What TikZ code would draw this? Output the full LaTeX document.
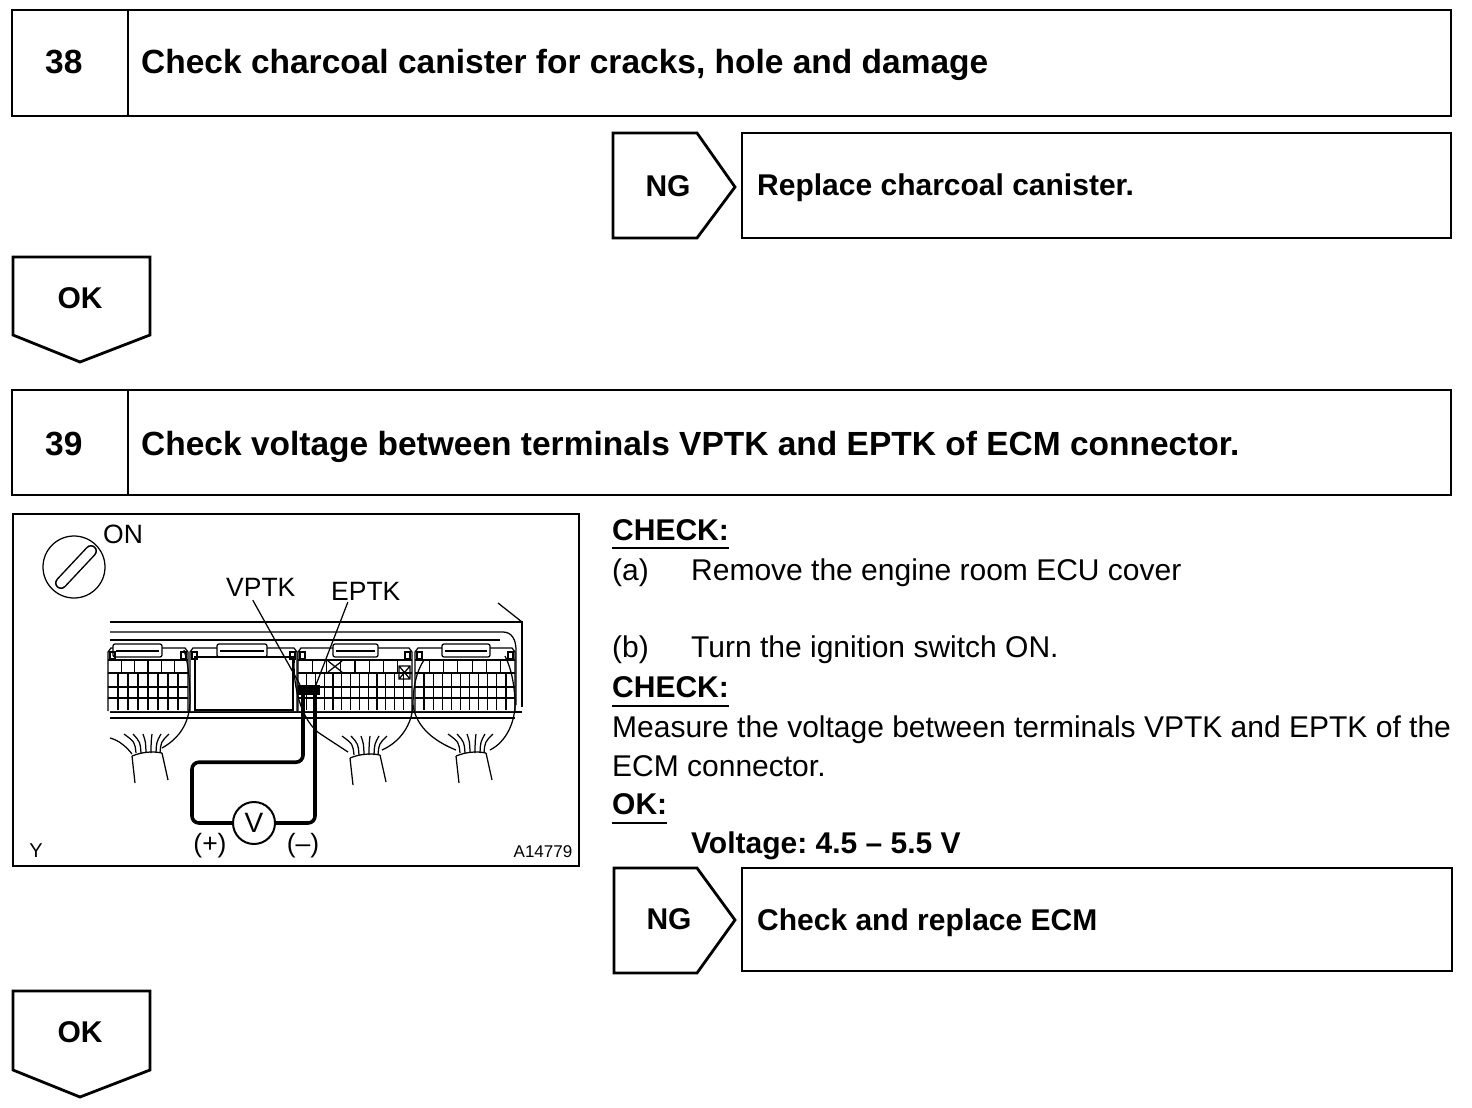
\documentclass[tikz,border=0pt]{standalone}
\usepackage{fontspec}
\setmainfont{Liberation Sans}
\usepackage{tikz}
\usetikzlibrary{positioning}
\frenchspacing
\newcommand{\headfont}{\fontsize{33.5}{40}\selectfont\bfseries}
\newcommand{\boxfont}{\fontsize{30}{36}\selectfont\bfseries}
\newcommand{\bodyfont}{\fontsize{30}{36}\selectfont}
\newcommand{\figfont}{\fontsize{26.5}{30}\selectfont}
% connector housing of the ECM
\newcommand{\ecmbody}[4]{%
  \draw[fig, fill=white] (#1,711) -- (#1,652) -- (#1+3,648) -- (#2-3,648) -- (#2,652) -- (#2,711);
  \draw[fig, fill=white, rounded corners=2pt] (#3,657) rectangle (#4,644);
  \draw[fig] (#3+3,651) -- (#4-3,651);
  \draw[fig] (#1+2,652) rectangle (#1+7,659);
  \draw[fig] (#2-7,652) rectangle (#2-2,659);
}
\newcommand{\ecmgrid}[4]{%
  \draw[fig] (#1,660) -- (#2,660) (#1,673) -- (#2,673) (#1,687) -- (#2,687) (#1,698) -- (#2,698);
  \foreach \i in {1,...,#3} \draw[fig] ({#1+\i*(#2-#1)/(#3+1)},660) -- ++(0,13);
  \foreach \i in {1,...,#4} \draw[fig] ({#1+\i*(#2-#1)/(#4+1)},673) -- ++(0,37);
}
% wire bundle leaving a connector
\newcommand{\harness}[2]{%
  \draw[fig] (#1,#2) -- ++(3,27);
  \draw[fig] (#1+30,#2-3) -- ++(6,27);
  \draw[fig] (#1,#2) .. controls (#1+10,#2-4) and (#1+20,#2-5) .. (#1+30,#2-3);
  \foreach \sx/\dx in {4/-12,9/-8,14/-3,19/1,24/5,28/9}
    \draw[fig] (#1+\sx,#2-3) .. controls (#1+\sx+\dx*0.1,#2-14) .. (#1+\sx+\dx,#2-22);
}

\begin{document}
\begin{tikzpicture}[x=1pt,y=-1pt]
\tikzset{box/.style={draw, line width=2.8pt}}
\tikzset{tag/.style={draw, line width=2.8pt, line join=miter}}
\tikzset{lbl/.style={inner sep=0pt, anchor=base west}}
\tikzset{fig/.style={line width=1.25pt}}
\tikzset{wire/.style={line width=3.6pt, rounded corners=7pt}}
\tikzset{uline/.style={line width=1.6pt}}

\useasboundingbox (0,0) rectangle (1472,1108);

% step 38
\draw[box] (12,10) rectangle (1451,116);
\draw[box] (128,10) -- (128,116);
\node[lbl, font=\headfont] (n38) at (45,74) {38};
\node[lbl, font=\headfont] (t38) at (141,74) {Check charcoal canister for cracks, hole and damage};

\draw[tag] (613,133) -- (697,133) -- (735,187) -- (697,238) -- (613,238) -- cycle;
\node[font=\boxfont] (ng1) at (668,186) {NG};
\draw[box] (742,133) rectangle (1451,238);
\node[lbl, font=\boxfont] (fix1) at (757,195) {Replace charcoal canister.};

\draw[tag] (13,257) -- (150,257) -- (150,335) -- (80,362) -- (13,335) -- cycle;
\node[font=\boxfont] (ok1) at (80,298) {OK};

% step 39
\draw[box] (12,390) rectangle (1451,495);
\draw[box] (128,390) -- (128,495);
\node[lbl, font=\headfont] (n39) at (45,455) {39};
\node[lbl, font=\headfont] (t39) at (141,455) {Check voltage between terminals VPTK and EPTK of ECM connector.};

\node[lbl, font=\boxfont] (chk1) at (612,540) {CHECK:};
\draw[uline] ([yshift=-8pt]chk1.base west) -- ([yshift=-8pt]chk1.base east);
\node[lbl, font=\bodyfont] (ia) at (612,580) {(a)};
\node[lbl, font=\bodyfont] (sa) at (691,580) {Remove the engine room ECU cover};
\node[lbl, font=\bodyfont] (ib) at (612,657) {(b)};
\node[lbl, font=\bodyfont] (sb) at (691,657) {Turn the ignition switch ON.};
\node[lbl, font=\boxfont] (chk2) at (612,697) {CHECK:};
\draw[uline] ([yshift=-9pt]chk2.base west) -- ([yshift=-9pt]chk2.base east);
\node[lbl, font=\bodyfont] (meas) at (612,737) {Measure the voltage between terminals VPTK and EPTK of the};
\node[lbl, font=\bodyfont] (meas2) at (612,776) {ECM connector.};
\node[lbl, font=\boxfont] (okc) at (612,814) {OK:};
\draw[uline] ([yshift=-9pt]okc.base west) -- ([yshift=-9pt]okc.base east);
\node[lbl, font=\boxfont] (volt) at (691,853) {Voltage: 4.5 -- 5.5 V};

\draw[tag] (614,868) -- (697,868) -- (735,920) -- (697,973) -- (614,973) -- cycle;
\node[font=\boxfont] (ng2) at (669,919) {NG};
\draw[box] (742,868) rectangle (1452,971);
\node[lbl, font=\boxfont] (fix2) at (757,930) {Check and replace ECM};

\draw[tag] (13,991) -- (150,991) -- (150,1070) -- (80,1097) -- (13,1070) -- cycle;
\node[font=\boxfont] (ok2) at (80,1032) {OK};

% illustration
\draw[line width=2.4pt] (13,514) rectangle (579,866);
\draw[fig] (74,567) circle[radius=31pt];
\draw[line width=12pt, line cap=round] (61,583) -- (91,551);
\draw[white, line width=9pt, line cap=round] (61,583) -- (91,551);
\node[lbl, font=\figfont] (on) at (103,543) {ON};

\draw[fig] (110,622) -- (522,622) -- (522,707);
\draw[fig] (498,603) -- (522,622);
\draw[fig] (110,632) -- (503,632) .. controls (512,632) and (516,640) .. (516,650) -- (516,705);
\draw[fig] (110,640) -- (500,640);
\draw[fig] (110,712) -- (522,712);
\draw[fig] (110,718) -- (515,718);

\ecmbody{108}{188}{113}{162}
\ecmgrid{108}{188}{5}{7}
\ecmbody{190}{297}{217}{267}
\draw[fig] (195,657) rectangle (293,710);
\ecmbody{298}{412}{333}{378}
\ecmgrid{298}{412}{7}{12}
\ecmbody{415}{515}{442}{490}
\ecmgrid{415}{515}{6}{10}
\draw[fig] (328,661) -- (342,672) (342,661) -- (328,672);
\draw[fig] (399,666) rectangle (410,679) (399,666) -- (410,679) (410,666) -- (399,679);

\harness{132}{756}
\harness{350}{758}
\harness{456}{756}
\draw[fig] (110,738) .. controls (118,740) and (126,746) .. (132,754);
\draw[fig] (162,748) .. controls (180,738) and (190,722) .. (190,700) .. controls (190,680) and (188,662) .. (184,650);
\draw[fig] (295,652) .. controls (291,680) and (300,722) .. (322,735) -- (348,752);
\draw[fig] (382,750) .. controls (400,742) and (412,725) .. (413,705) .. controls (413,688) and (416,672) .. (424,660);
\draw[fig] (413,705) .. controls (416,728) and (436,742) .. (456,750);
\draw[fig] (490,750) .. controls (506,742) and (516,722) .. (515,700) .. controls (514,682) and (511,668) .. (505,656);

\node[fill, minimum width=22pt, minimum height=10pt, inner sep=0pt] (plug) at (309,690) {};
\node[lbl, font=\figfont] (vptk) at (226,596) {VPTK};
\node[lbl, font=\figfont] (eptk) at (331,600) {EPTK};
\draw[fig] ([xshift=-8pt,yshift=-4pt]vptk.south) -- ([xshift=-9pt]plug.north);
\draw[fig] ([xshift=-18pt,yshift=-2pt]eptk.south) -- ([xshift=7pt]plug.north);

\node[draw, circle, line width=2pt, minimum size=42pt, inner sep=0pt, font=\fontsize{28}{30}\selectfont] (vm) at (254,823) {V};
\draw[wire] ([xshift=-6pt]plug.south) -- ++(0,67) -- ++(-111,0) |- (vm.west);
\draw[wire] ([xshift=6pt]plug.south) |- (vm.east);
\node[font=\figfont] (pos) at (210,846) {(+)};
\node[font=\figfont] (neg) at (303,846) {(--)};
\node[font=\fontsize{20}{22}\selectfont] (yy) at (36,851) {Y};
\node[font=\fontsize{17}{20}\selectfont] (code) at (543,852) {A14779};
\end{tikzpicture}
\end{document}
